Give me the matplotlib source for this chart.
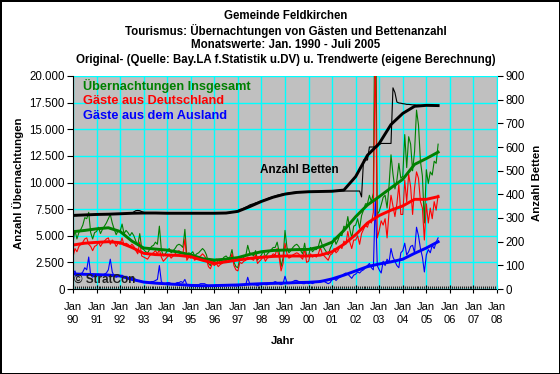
import numpy as np
import matplotlib
matplotlib.use('Agg')
import matplotlib.pyplot as plt
from matplotlib.ticker import FuncFormatter, MultipleLocator

plt.rcParams['font.family'] = ['Liberation Sans', 'DejaVu Sans']

# Monatswerte Jan 1990 - Jul 2005, Übernachtungen in Hundert
deutschland = [
    30, 38, 35, 40, 42, 44, 47, 48, 42, 40, 36, 40,   # 1990
    41, 44, 40, 43, 45, 47, 48, 42, 46, 44, 40, 43,   # 1991
    42, 48, 41, 43, 42, 40, 42, 40, 36, 33, 44, 31,   # 1992
    30, 29, 28, 31, 33, 34, 36, 33, 37, 30, 26, 28,   # 1993
    30, 32, 29, 31, 33, 35, 36, 34, 33, 47, 27, 30,   # 1994
    29, 31, 27, 29, 30, 31, 33, 31, 28, 21, 19, 24,   # 1995
    22, 24, 21, 23, 24, 26, 27, 25, 26, 33, 22, 18,   # 1996
    17, 25, 24, 26, 27, 30, 29, 28, 27, 32, 24, 26,   # 1997
    28, 31, 26, 29, 30, 31, 33, 32, 38, 30, 17, 24,   # 1998
    43, 33, 29, 30, 32, 33, 34, 33, 30, 28, 38, 25,   # 1999
    26, 33, 30, 31, 30, 33, 39, 33, 31, 29, 27, 32,   # 2000
    33, 38, 34, 36, 40, 38, 45, 42, 54, 44, 38, 46,   # 2001
    46, 50, 42, 52, 56, 60, 58, 64, 62, 72, 230, 48,  # 2002
    55, 64, 60, 66, 48, 72, 88, 78, 68, 80, 98, 70,   # 2003
    70, 102, 82, 108, 96, 70, 95, 110, 104, 82, 76, 46,  # 2004
    80, 62, 76, 66, 82, 74, 88,                       # 2005
]
ausland = [
    14, 17, 12, 13, 14, 16, 20, 18, 30, 13, 11, 13,
    13, 14, 12, 13, 14, 15, 18, 28, 16, 12, 11, 12,
    12, 13, 11, 12, 11, 10, 11, 10, 9, 8, 8, 7,
    7, 6, 6, 6, 7, 7, 8, 9, 22, 7, 5, 5,
    6, 6, 5, 5, 5, 6, 6, 7, 6, 9, 4, 4,
    4, 4, 4, 4, 4, 5, 5, 5, 4, 3, 3, 3,
    3, 4, 3, 4, 4, 4, 4, 4, 4, 4, 3, 3,
    3, 4, 3, 4, 4, 11, 5, 5, 4, 4, 3, 4,
    4, 5, 4, 4, 5, 6, 6, 7, 6, 5, 4, 5,
    12, 6, 5, 6, 7, 8, 8, 7, 6, 5, 5, 6,
    5, 6, 5, 6, 7, 7, 8, 8, 7, 6, 5, 6,
    9, 10, 8, 10, 11, 12, 14, 15, 14, 12, 10, 13,
    14, 16, 15, 17, 18, 20, 22, 24, 20, 18, 84, 22,
    18, 15, 26, 22, 28, 25, 38, 30, 26, 22, 20, 34,
    36, 43, 32, 35, 40, 41, 34, 58, 50, 38, 30, 16,
    32, 37, 34, 41, 38, 44, 48,
]
insgesamt = [
    44, 55, 47, 53, 56, 60, 67, 66, 72, 53, 47, 53,
    54, 58, 52, 56, 59, 62, 66, 70, 62, 56, 51, 55,
    54, 61, 52, 55, 53, 50, 53, 50, 45, 41, 52, 38,
    37, 35, 34, 37, 40, 41, 44, 42, 59, 37, 31, 33,
    36, 38, 34, 36, 38, 41, 42, 41, 39, 56, 31, 34,
    33, 35, 31, 33, 34, 36, 38, 36, 32, 24, 22, 27,
    25, 28, 24, 27, 28, 30, 31, 29, 30, 37, 25, 21,
    20, 29, 27, 30, 31, 41, 34, 33, 31, 36, 27, 30,
    32, 36, 30, 33, 35, 37, 39, 39, 44, 35, 21, 29,
    55, 39, 34, 36, 39, 41, 42, 40, 36, 33, 43, 31,
    31, 39, 35, 37, 37, 40, 47, 41, 38, 35, 32, 38,
    42, 48, 42, 46, 51, 50, 59, 57, 68, 56, 48, 59,
    60, 66, 57, 69, 74, 80, 80, 88, 82, 90, 314, 70,
    73, 79, 86, 88, 76, 97, 126, 108, 94, 102, 118, 104,
    106, 145, 114, 143, 136, 111, 129, 168, 154, 120, 106, 62,
    112, 99, 110, 107, 120, 118, 136,
]
betten = [
    308, 310, 310, 312, 312, 312, 313, 313, 313, 314, 314, 314,
    314, 315, 315, 316, 316, 316, 316, 317, 317, 317, 318, 318,
    318, 318, 319, 319, 320, 320, 320, 326, 331, 332, 331, 327,
    324, 321, 320, 320, 320, 320, 320, 320, 320, 320, 320, 320,
    320, 320, 320, 320, 320, 320, 320, 320, 320, 320, 320, 320,
    320, 320, 320, 320, 320, 320, 320, 320, 320, 320, 320, 320,
    320, 320, 320, 320, 320, 320, 321, 321, 322, 324, 326, 328,
    332, 336, 338, 342, 346, 350, 355, 358, 360, 364, 366, 370,
    372, 375, 378, 382, 385, 388, 390, 393, 396, 398, 400, 402,
    403, 404, 406, 407, 408, 409, 410, 410, 410, 411, 411, 411,
    411, 411, 412, 412, 412, 412, 412, 413, 413, 413, 413, 413,
    413, 413, 413, 413, 413, 414, 414, 414, 414, 414, 414, 414,
    414, 414, 414, 389, 545, 545, 545, 600, 600, 600, 600, 600,
    610, 615, 615, 615, 615, 615, 615, 850, 830, 790, 786, 785,
    783, 782, 780, 780, 779, 778, 778, 777, 777, 776, 776, 776,
    776, 776, 775, 775, 775, 775, 775,
]

# Trendwerte, halbjährlich 1990.0 - 2005.5
trend_insgesamt = [53.8, 55.0, 56.5, 57.5, 54.0, 45.0, 38.5, 37.5, 36.5, 34.5, 32.0,
                   28.5, 27.2, 28.0, 29.5, 32.5, 35.0, 36.2, 36.6, 37.0, 37.2, 39.5,
                   44.0, 55.0, 67.9, 78.9, 86.7, 95.0, 103.0, 117.0, 122.5, 128.5]
trend_deutschland = [41.3, 43.0, 43.8, 44.4, 43.5, 39.0, 33.5, 32.3, 31.9, 31.5, 30.3,
                     27.0, 24.1, 25.5, 27.2, 28.8, 29.8, 30.6, 31.0, 31.0, 31.0, 31.8,
                     35.0, 42.0, 51.0, 62.0, 69.0, 74.0, 78.0, 84.2, 84.2, 86.7]
trend_ausland = [14.1, 13.8, 13.5, 13.1, 12.2, 9.0, 6.5, 5.5, 4.8, 4.2, 3.4,
                 3.0, 3.2, 3.5, 3.8, 4.5, 5.0, 5.3, 5.6, 6.0, 6.3, 7.0,
                 9.5, 13.0, 17.0, 21.0, 23.5, 25.5, 28.0, 33.5, 38.5, 44.4]
trend_betten = [311, 313, 315, 316, 318, 320, 321, 321, 320, 320, 320,
                320, 320, 321, 328, 348, 370, 388, 401, 408, 411, 412,
                413, 418, 475, 565, 615, 695, 742, 772, 776, 775]

jahre = list(range(1990, 2009))
tick_labels = ['Jan\n%02d' % (j % 100) for j in jahre]

monate = 1990 + np.arange(len(insgesamt)) / 12.0
trend_x = 1990 + np.arange(len(trend_insgesamt)) * 0.5
s = 100  # Werte in Hundert

GREEN = '#008000'
RED = '#ff0000'
BLUE = '#0000ff'

fig = plt.figure(figsize=(5.6, 3.74), dpi=100)
fig.patch.set_edgecolor('black')
fig.patch.set_linewidth(2)

ax = fig.add_axes([73 / 560, 1 - 289 / 374, 424 / 560, 213 / 374])
ax.set_facecolor('#c0c0c0')

ax.plot(monate, np.array(insgesamt) * s, color=GREEN, lw=0.8)
ax.plot(monate, np.array(deutschland) * s, color=RED, lw=0.8)
ax.plot(monate, np.array(ausland) * s, color=BLUE, lw=0.8)
ax.plot(trend_x, np.array(trend_insgesamt) * s, color=GREEN, lw=2.1)
ax.plot(trend_x, np.array(trend_deutschland) * s, color=RED, lw=2.1)
ax.plot(trend_x, np.array(trend_ausland) * s, color=BLUE, lw=2.1)

ax.set_xlim(1990, 2008)
ax.set_ylim(0, 20000)
ax.set_xticks(jahre)
ax.set_xticklabels(tick_labels, fontsize=8, linespacing=1.4)
ax.xaxis.set_minor_locator(MultipleLocator(1 / 12))
ax.tick_params(axis='x', which='major', direction='inout', length=6, pad=6)
ax.tick_params(axis='x', which='minor', direction='in', length=2)
ax.set_yticks(np.arange(0, 20001, 2500))
ax.yaxis.set_major_formatter(FuncFormatter(lambda v, p: f'{int(v):,}'.replace(',', '.')))
ax.tick_params(axis='y', direction='out', length=4, labelsize=8.3, pad=2)
ax.grid(True, color='#00ffff', lw=1)
ax.set_axisbelow(True)
for side in ['top', 'right']:
    ax.spines[side].set_visible(False)

ax2 = ax.twinx()
ax2.patch.set_visible(False)
ax2.plot(monate, betten, color='black', lw=0.8)
ax2.plot(trend_x, trend_betten, color='black', lw=2.1)
ax2.set_ylim(0, 900)
ax2.set_yticks(range(0, 901, 100))
ax2.tick_params(axis='y', direction='out', length=4, labelsize=8.3, pad=2)
for side in ['top', 'left', 'bottom']:
    ax2.spines[side].set_visible(False)
ax2.spines['right'].set_color('#00ffff')

ax.text(1990.42, 19060, 'Übernachtungen Insgesamt', color=GREEN, fontsize=9.2,
        fontweight='bold', va='center')
ax.text(1990.42, 17650, 'Gäste aus Deutschland', color=RED, fontsize=9.2,
        fontweight='bold', va='center')
ax.text(1990.42, 16240, 'Gäste aus dem Ausland', color=BLUE, fontsize=9.2,
        fontweight='bold', va='center')
ax.text(1997.94, 11170, 'Anzahl Betten', color='black', fontsize=8.5,
        fontweight='bold', va='center')
ax.text(1990.05, 850, '© StratCon', color='#202020', fontsize=8.5,
        fontweight='bold', va='center')

titel = ['Gemeinde Feldkirchen',
         'Tourismus: Übernachtungen von Gästen und Bettenanzahl',
         'Monatswerte: Jan. 1990 - Juli 2005',
         'Original- (Quelle: Bay.LA f.Statistik u.DV) u. Trendwerte (eigene Berechnung)']
for i, t in enumerate(titel):
    fig.text(286 / 560, 1 - (16 + 14.7 * i) / 374, t, ha='center', va='center',
             fontsize=8.3, fontweight='bold')

fig.text(18 / 560, 1 - 183 / 374, 'Anzahl Übernachtungen', rotation=90, ha='center',
         va='center', fontsize=8.2, fontweight='bold')
fig.text(537 / 560, 1 - 183 / 374, 'Anzahl Betten', rotation=90, ha='center',
         va='center', fontsize=8.2, fontweight='bold')
fig.text(283 / 560, 1 - 341 / 374, 'Jahr', ha='center', va='center',
         fontsize=8.2, fontweight='bold')

fig.savefig('out.png', dpi=100, edgecolor=fig.get_edgecolor())
